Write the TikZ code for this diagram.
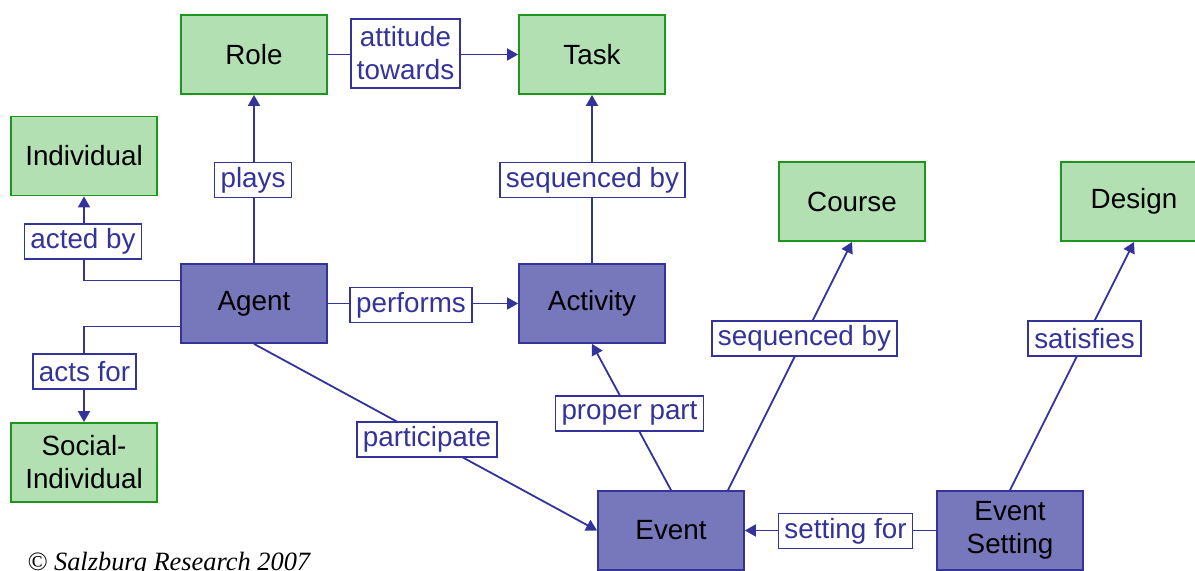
\documentclass[tikz,border=0pt]{standalone}
\usepackage{fontspec}
\setmainfont{Liberation Sans}
\newfontfamily\timesfam{Liberation Serif}
\usetikzlibrary{arrows.meta,calc}
\definecolor{gfill}{RGB}{179,224,179}
\definecolor{gdraw}{RGB}{30,150,30}
\definecolor{pfill}{RGB}{119,119,187}
\definecolor{bline}{RGB}{51,51,153}
\begin{document}
\begin{tikzpicture}[x=0.5pt,y=-0.5pt,
  box/.style={draw, line width=0.9pt, minimum width=73pt, minimum height=39.5pt, inner sep=0pt, align=center, font=\fontsize{13.9}{16.5}\selectfont},
  gbox/.style={box, fill=gfill, draw=gdraw},
  pbox/.style={box, fill=pfill, draw=bline},
  lbl/.style={draw=bline, fill=white, text=bline, line width=0.8pt, inner xsep=3pt, inner ysep=0pt, minimum height=17.5pt, align=center, font=\fontsize{13.9}{16.5}\selectfont},
  conn/.style={draw=bline, line width=0.9pt},
  arr/.style={conn, -{Triangle[length=5.5pt,width=6pt]}}]
\fill[white] (0,0) rectangle (1195,571);
\clip (0,0) rectangle (1195,571);
% boxes
\node[gbox] (role) at (254,54.5) {Role};
\node[gbox] (task) at (592,54.5) {Task};
\node[gbox] (indiv) at (84,156) {Individual};
\node[pbox] (agent) at (254,303.5) {Agent};
\node[pbox] (activity) at (592,303.5) {Activity};
\node[gbox] (course) at (852,201.5) {Course};
\node[gbox] (design) at (1134,201.5) {Design};
\node[gbox] (social) at (84,462.5) {Social-\\Individual};
\node[pbox] (event) at (671,530.5) {Event};
\node[pbox] (setting) at (1010,530.5) {Event\\Setting};
% connectors
\draw[arr] (agent.north) -- (role.south);
\draw[arr] ($(agent.north west)!0.215!(agent.south west)$) -| (indiv.south);
\draw[arr] ($(agent.north west)!0.785!(agent.south west)$) -| (social.north);
\draw[arr] (role.east) -- (task.west);
\draw[arr] (activity.north) -- (task.south);
\draw[arr] (agent.east) -- (activity.west);
\draw[arr] (agent.south) -- (event.west);
\draw[arr] (event.north) -- (activity.south);
\draw[arr] ($(event.north)+(57,0)$) -- (course.south);
\draw[arr] (setting.north) -- (design.south);
\draw[arr] (setting.west) -- (event.east);
% labels
\node[lbl, minimum height=34.5pt] (l-att) at (405.5,53.5) {attitude\\towards};
\node[lbl] (l-plays) at (253,180) {plays};
\node[lbl] (l-acted) at (83,241.5) {acted by};
\node[lbl] (l-seq1) at (592.5,180) {sequenced by};
\node[lbl] (l-perf) at (411,305) {performs};
\node[lbl] (l-acts) at (84.5,371.5) {acts for};
\node[lbl] (l-part) at (427,439.5) {participate};
\node[lbl] (l-proper) at (629.5,413.5) {proper part};
\node[lbl] (l-seq2) at (804.5,338.5) {sequenced by};
\node[lbl] (l-sat) at (1084.5,338.5) {satisfies};
\node[lbl] (l-set) at (845.5,531) {setting for};
% copyright
\node[anchor=base west, inner sep=0pt, font=\timesfam\itshape\fontsize{13.2}{15}\selectfont] (copy) at (27,571) {© Salzburg Research 2007};
\end{tikzpicture}
\end{document}
